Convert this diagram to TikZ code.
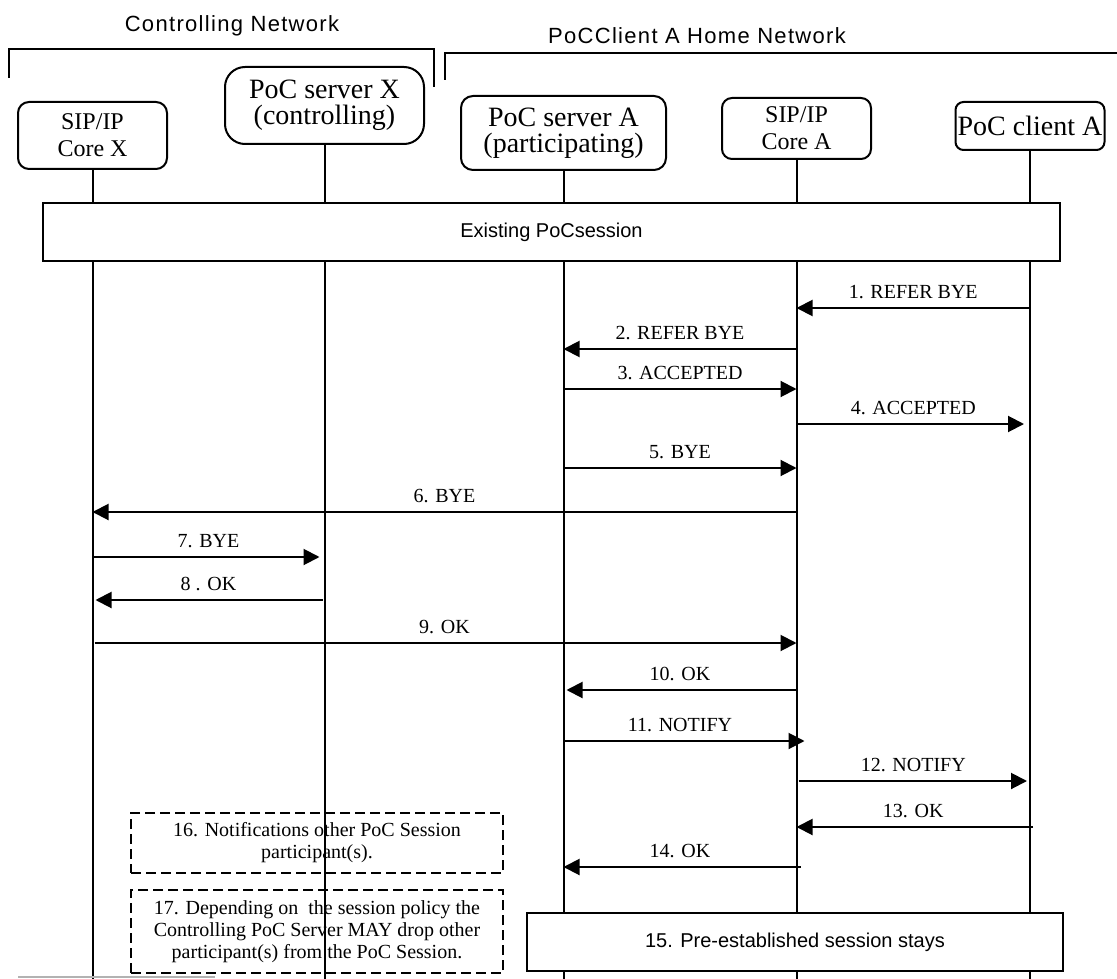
\documentclass[tikz,border=0pt]{standalone}
\usepackage{fontspec}
\setmainfont{Liberation Serif}
\newfontfamily\sansf{Liberation Sans}
\newfontfamily\sansspaced[LetterSpace=6]{Liberation Sans}
\usetikzlibrary{arrows.meta}
\begin{document}
\begin{tikzpicture}[x=1pt,y=-1pt,
  ent/.style={draw, line width=2pt, fill=white, align=center, inner sep=0pt},
  smallent/.style={ent, font=\fontsize{24}{27}\selectfont},
  bigent/.style={ent, font=\fontsize{28}{26}\selectfont},
  life/.style={line width=2pt},
  msg/.style={line width=2pt, -{Triangle[length=16pt,width=16pt]}},
  lbl/.style={font=\fontsize{20}{22}\selectfont, anchor=base, inner sep=0pt, yshift=10pt, midway},
  bar/.style={draw, line width=2pt, fill=white, font=\sansf\fontsize{20}{22}\selectfont},
  note/.style={draw, dashed, dash pattern=on 10pt off 5pt, line width=2pt, align=center, font=\fontsize{20}{22}\selectfont},
  bracket/.style={line width=2pt},
  title/.style={font=\sansspaced\fontsize{22}{24}\selectfont, inner sep=0pt}
]
\useasboundingbox[fill=white] (0,0) rectangle (1117,979);

% network titles and brackets
\node[title] (tctl) at (232,26) {Controlling Network};
\node[title] (thome) at (697,36) {PoCClient A Home Network};
\draw[bracket] (9,78) -- (9,49) -- (434,49) -- (434,87);
\draw[bracket] (445,80) -- (445,53) -- (1117,53);

% entity boxes
\node[smallent, rounded corners=11pt, minimum width=149pt, minimum height=67pt] (coreX) at (92.5,135.5) {SIP/IP\\Core X};
\node[bigent, rounded corners=20pt, minimum width=199pt, minimum height=77pt] (srvX) at (324.5,105.5) {PoC server X\\(controlling)};
\node[bigent, rounded corners=12pt, minimum width=205pt, minimum height=74pt] (srvA) at (563.5,133) {PoC server A\\(participating)};
\node[smallent, rounded corners=10pt, minimum width=149pt, minimum height=61pt] (coreA) at (796.5,128.5) {SIP/IP\\Core A};
\node[bigent, rounded corners=8pt, minimum width=149pt, minimum height=48pt] (cliA) at (1030,126) {PoC client A};

% lifelines
\coordinate (coreXe) at (92.5,979);
\coordinate (srvXe) at (324.5,979);
\coordinate (srvAe) at (563.5,979);
\coordinate (coreAe) at (796.5,979);
\coordinate (cliAe) at (1030,979);
\draw[life] (coreX.south) -- (coreXe);
\draw[life] (srvX.south) -- (srvXe);
\draw[life] (srvA.south) -- (srvAe);
\draw[life] (coreA.south) -- (coreAe);
\draw[life] (cliA.south) -- (cliAe);

% existing session bar
\node[bar, minimum width=1017pt, minimum height=58pt] (exist) at (551.5,232) {Existing PoCsession};

% messages
\draw[msg] (cliA |- 0,308) -- (coreA |- 0,308) node[lbl] {1. REFER BYE};
\draw[msg] (coreA |- 0,349) -- (srvA |- 0,349) node[lbl] {2. REFER BYE};
\draw[msg] (srvA |- 0,389) -- (coreA |- 0,389) node[lbl] {3. ACCEPTED};
\draw[msg, shorten >=6pt] (coreA |- 0,424) -- (cliA |- 0,424) node[lbl] {4. ACCEPTED};
\draw[msg] (srvA |- 0,468) -- (coreA |- 0,468) node[lbl] {5. BYE};
\draw[msg] (coreA |- 0,512) -- (coreX |- 0,512) node[lbl] {6. BYE};
\draw[msg, shorten >=5pt] (coreX |- 0,557) -- (srvX |- 0,557) node[lbl] {7. BYE};
\draw[msg, shorten >=3pt, shorten <=2pt] (srvX |- 0,600) -- (coreX |- 0,600) node[lbl] {8 . OK};
\draw[msg, shorten <=2pt] (coreX |- 0,643) -- (coreA |- 0,643) node[lbl] {9. OK};
\draw[msg, shorten >=3pt] (coreA |- 0,690) -- (srvA |- 0,690) node[lbl] {10. OK};
\draw[msg, shorten >=-8pt] (srvA |- 0,741) -- (coreA |- 0,741) node[lbl] {11. NOTIFY};
\draw[msg, shorten >=3pt, shorten <=2pt] (coreA |- 0,781) -- (cliA |- 0,781) node[lbl] {12. NOTIFY};
\draw[msg, shorten <=-3pt] (cliA |- 0,827) -- (coreA |- 0,827) node[lbl] {13. OK};
\draw[msg, shorten <=-4pt] (coreA |- 0,867) -- (srvA |- 0,867) node[lbl] {14. OK};

% notes
\node[note, minimum width=372pt, minimum height=60pt] (n16) at (317,843) {16. Notifications other PoC Session\\participant(s).};
\node[note, minimum width=372pt, minimum height=83pt, line width=2.4pt] (n17) at (317,931.5) {17. Depending on~ the session policy the\\Controlling PoC Server MAY drop other\\participant(s) from the PoC Session.};

% final bar
\node[bar, minimum width=536pt, minimum height=58pt] (stay) at (795,942) {15. Pre-established session stays};

% faint bottom rule
\draw[gray!60, line width=1.5pt] (18,977) -- (215,977);
\end{tikzpicture}
\end{document}
